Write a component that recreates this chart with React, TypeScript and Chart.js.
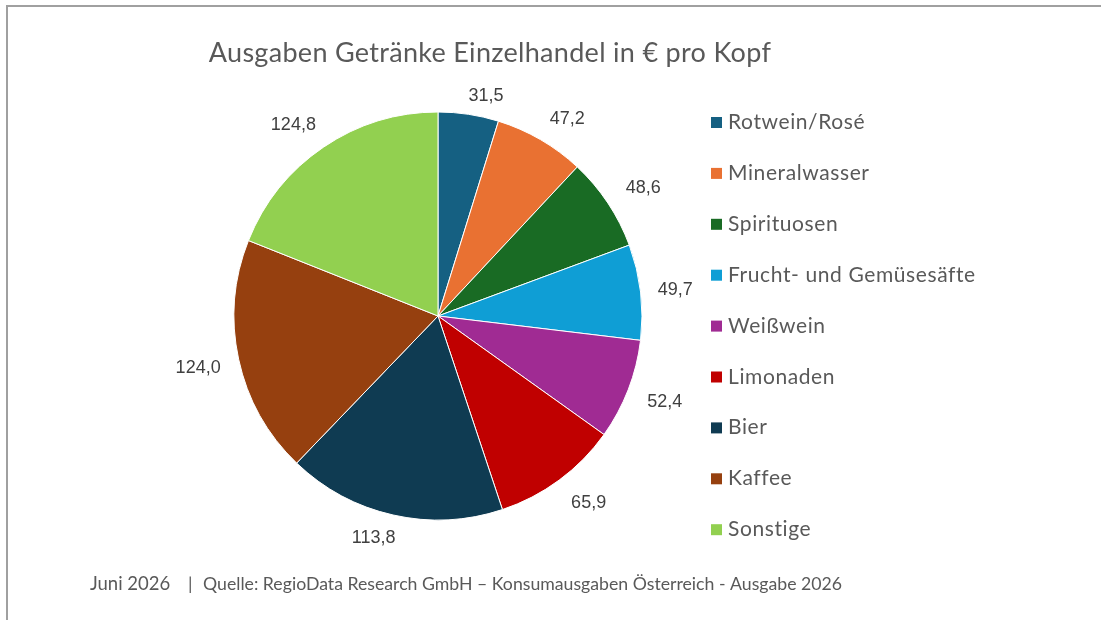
import React, { useEffect, useRef } from "react";
import Chart from "chart.js/auto";

const titleText = "Ausgaben Getränke Einzelhandel in € pro Kopf";
const footerDate = "Juni 2026";
const footerSep = "|";
const footerSource = "Quelle: RegioData Research GmbH – Konsumausgaben Österreich - Ausgabe 2026";

const categories = [
  "Rotwein/Rosé",
  "Mineralwasser",
  "Spirituosen",
  "Frucht- und Gemüsesäfte",
  "Weißwein",
  "Limonaden",
  "Bier",
  "Kaffee",
  "Sonstige",
];
const values = [31.5, 47.2, 48.6, 49.7, 52.4, 65.9, 113.8, 124.0, 124.8];
const colors = [
  "#156082",
  "#e97132",
  "#196b24",
  "#0f9ed5",
  "#a02b93",
  "#c00000",
  "#0f3b52",
  "#96400f",
  "#92d050",
];

const fmt = (v: number) => v.toFixed(1).replace(".", ",");

const textPlugin = {
  id: "customTexts",
  afterDatasetsDraw(chart: any) {
    const ctx = chart.ctx;
    const meta = chart.getDatasetMeta(0);
    ctx.save();
    // data labels outside the slices
    ctx.font = '18px "Liberation Sans", Arial, sans-serif';
    ctx.fillStyle = "#404040";
    ctx.textAlign = "center";
    ctx.textBaseline = "alphabetic";
    const h = 13;
    meta.data.forEach((arc: any, i: number) => {
      const p = arc.getProps(["x", "y", "startAngle", "endAngle", "outerRadius"], true);
      const mid = (p.startAngle + p.endAngle) / 2;
      const text = fmt(values[i]);
      const w = ctx.measureText(text).width;
      const c = Math.cos(mid);
      const s = Math.sin(mid);
      const r = p.outerRadius + 15 + (Math.abs(c) * w) / 2 + (Math.abs(s) * h) / 2;
      const lx = p.x + c * r + Math.sign(c) * 14 * Math.abs(s);
      const ly = p.y + s * r - s * 4;
      ctx.fillText(text, lx, ly + h / 2);
    });

    const ls = (v: string) => {
      try {
        (ctx as any).letterSpacing = v;
      } catch (e) {}
    };

    // title
    ctx.font = '27px Lato, "Noto Sans", sans-serif';
    ls("0.3px");
    ctx.fillStyle = "#595959";
    ctx.textAlign = "center";
    ctx.fillText(titleText, 490, 62);

    // legend
    ctx.font = '21px Lato, "Noto Sans", sans-serif';
    ls("0.6px");
    ctx.textAlign = "left";
    categories.forEach((name, i) => {
      const base = 129 + 50.9 * i;
      ctx.fillStyle = colors[i];
      ctx.fillRect(711, base - 12, 11, 11);
      ctx.fillStyle = "#595959";
      ctx.fillText(name, 728, base);
    });

    // footer
    ls("0px");
    ctx.fillStyle = "#595959";
    ctx.textAlign = "left";
    ctx.font = '18.5px Lato, "Noto Sans", sans-serif';
    ctx.fillText(footerDate, 90, 590);
    ctx.font = '18px Lato, "Noto Sans", sans-serif';
    ctx.fillText(footerSep, 188, 590);
    ctx.font = '17.7px Lato, "Noto Sans", sans-serif';
    ctx.fillText(footerSource, 203, 590);
    ctx.restore();
  },
};

export default function App() {
  const ref = useRef<HTMLCanvasElement | null>(null);

  useEffect(() => {
    if (!ref.current) return;
    const chart = new Chart(ref.current, {
      type: "pie",
      data: {
        labels: categories,
        datasets: [
          {
            data: values,
            backgroundColor: colors,
            borderColor: "#ffffff",
            borderWidth: 1,
            hoverOffset: 0,
          },
        ],
      },
      options: {
        responsive: false,
        animation: false,
        devicePixelRatio: 1,
        layout: {
          padding: { left: 233.5, right: 458.5, top: 111.5, bottom: 99.5 },
        },
        plugins: {
          legend: { display: false },
          title: { display: false },
          tooltip: { enabled: false },
        },
      },
      plugins: [textPlugin],
    });
    const fonts: any = (document as any).fonts;
    if (fonts && fonts.load) {
      Promise.all([
        fonts.load('20px Lato'),
        fonts.load('18px "Liberation Sans"'),
      ]).then(() => chart.draw()).catch(() => {});
    }
    return () => chart.destroy();
  }, []);

  return (
    <div
      style={{
        position: "fixed",
        left: 0,
        top: 0,
        width: 1101,
        height: 620,
        overflow: "hidden",
        background: "#ffffff",
      }}
    >
      <canvas
        ref={ref}
        width={1101}
        height={620}
        style={{ position: "absolute", left: 0, top: 0, width: 1101, height: 620 }}
      />
      <div
        style={{
          position: "absolute",
          left: 6,
          top: 5,
          width: 1200,
          height: 800,
          borderTop: "2px solid #a0a0a0",
          borderLeft: "2px solid #a0a0a0",
          pointerEvents: "none",
        }}
      />
    </div>
  );
}
